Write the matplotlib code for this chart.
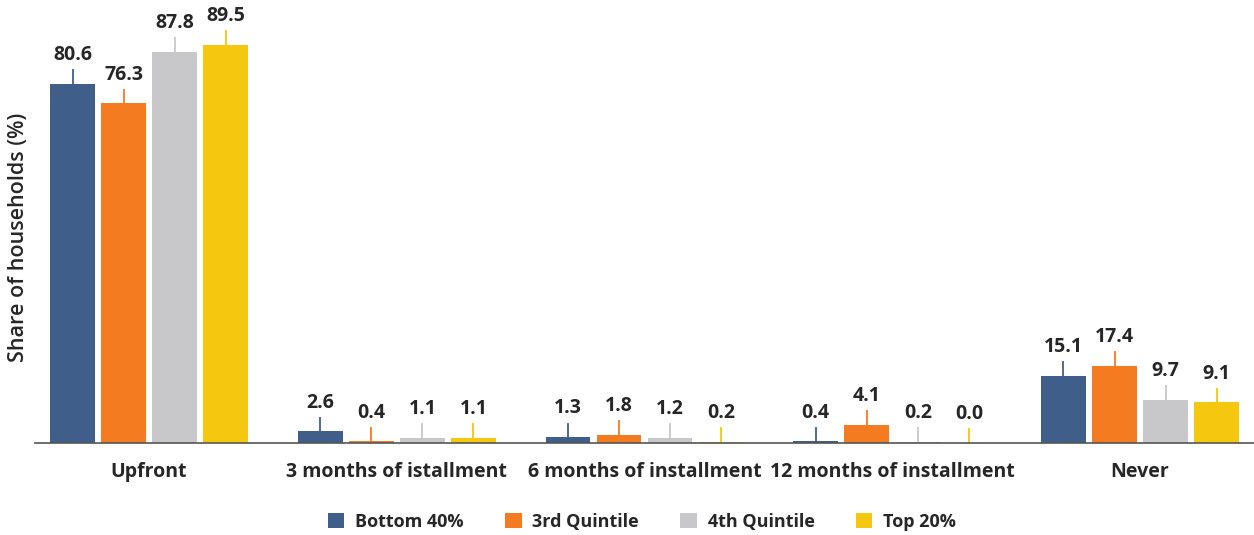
import matplotlib.pyplot as plt
import numpy as np

plt.rcParams['font.family'] = ['Open Sans', 'DejaVu Sans']

categories = ['Upfront', '3 months of istallment', '6 months of installment',
              '12 months of installment', 'Never']
series = ['Bottom 40%', '3rd Quintile', '4th Quintile', 'Top 20%']
bottom40 = [80.6, 2.6, 1.3, 0.4, 15.1]
quint3 = [76.3, 0.4, 1.8, 4.1, 17.4]
quint4 = [87.8, 1.1, 1.2, 0.2, 9.7]
top20 = [89.5, 1.1, 0.2, 0.0, 9.1]
err = 3.3

colors = ['#3F5F8A', '#F47B20', '#C8C8CA', '#F5C70F']
values = [bottom40, quint3, quint4, top20]

fig = plt.figure(figsize=(12.54, 5.35), dpi=100)
ax = fig.add_axes([0.028, 0.172, 0.972, 0.828])

x = np.arange(len(categories))
step = 0.206
width = 0.18
for i, (name, vals, c) in enumerate(zip(series, values, colors)):
    pos = x + (i - 1.5) * step
    ax.bar(pos, vals, width, color=c, label=name)
    # thin leader line above each bar
    ax.errorbar(pos, vals, yerr=[np.zeros(len(vals)), np.full(len(vals), err)],
                fmt='none', ecolor=c, elinewidth=1.3, capsize=0)
    for p, v in zip(pos, vals):
        ax.text(p, v + err + 0.9, f'{v:.1f}', ha='center', va='bottom',
                fontsize=14, fontweight='bold', color='#262626')

ax.set_xlim(-0.46, 4.46)
ax.set_ylim(0, 99.5)
ax.set_xticks(x)
ax.set_xticklabels(categories, fontsize=14, fontweight='bold', color='#262626')
ax.tick_params(axis='x', length=0, pad=14)
ax.set_yticks([])
for s in ['top', 'right', 'left']:
    ax.spines[s].set_visible(False)
ax.spines['bottom'].set_color('#555555')
ax.spines['bottom'].set_linewidth(1.2)
ax.set_ylabel('Share of households (%)', fontsize=15.5, fontweight='semibold',
              color='#262626')
ax.yaxis.set_label_coords(-0.005, 0.465)

leg = fig.legend(loc='center', bbox_to_anchor=(0.512, 0.024), ncol=4, frameon=False,
                 handlelength=0.9, handleheight=0.9, handletextpad=0.6,
                 columnspacing=2.3, prop={'size': 13, 'weight': 'bold'})
for t in leg.get_texts():
    t.set_color('#262626')

fig.savefig('out.png', dpi=100)
